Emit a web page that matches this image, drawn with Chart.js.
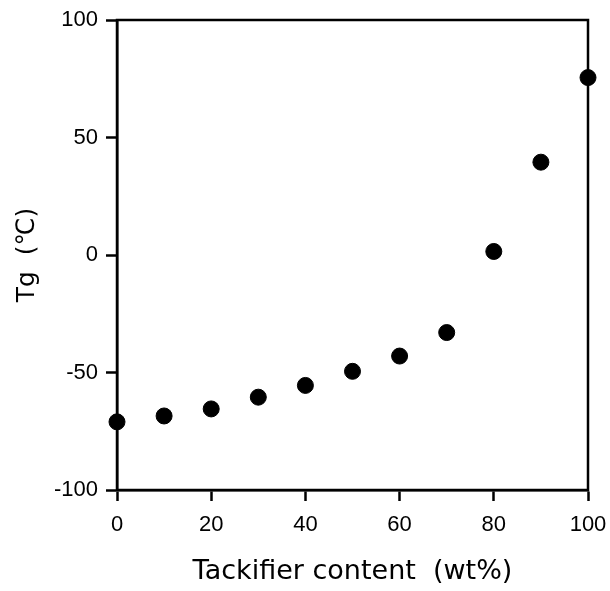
<!DOCTYPE html>
<html>
<head>
<meta charset="utf-8">
<script src="https://cdn.jsdelivr.net/npm/chart.js@4/dist/chart.umd.min.js"></script>
<style>
  html, body { margin: 0; padding: 0; background: #fff; }
  #wrap { width: 610px; height: 591px; }
</style>
</head>
<body>
<div id="wrap"><canvas id="tgChart"></canvas></div>
<script>
// Tackifier content (wt%) vs Tg (deg C)
const tackifierContent = [0, 10, 20, 30, 40, 50, 60, 70, 80, 90, 100];
const tgValues = [-71, -68.5, -65.5, -60.5, -55.5, -49.5, -43, -33, 1.5, 39.5, 75.5];

const FONT = '"DejaVu Sans", sans-serif';
const TICK_FONT = '"Liberation Sans", Arial, sans-serif';

// draw the closed frame round the plot area
const frameBox = {
  id: 'frameBox',
  afterDraw(chart) {
    const a = chart.chartArea;
    const c = chart.ctx;
    c.save();
    c.strokeStyle = '#000';
    c.lineWidth = 2.5;
    c.strokeRect(a.left, a.top, a.right - a.left, a.bottom - a.top);
    c.restore();
  }
};

const ctx = document.getElementById('tgChart').getContext('2d');
const tgChart = new Chart(ctx, {
  type: 'scatter',
  data: {
    datasets: [{
      data: tackifierContent.map((x, i) => ({ x: x, y: tgValues[i] })),
      backgroundColor: '#000',
      borderColor: '#000',
      pointRadius: 8,
      pointHoverRadius: 8,
      clip: false
    }]
  },
  options: {
    responsive: true,
    maintainAspectRatio: false,
    animation: false,
    layout: { padding: { top: 20, right: 22, left: 0, bottom: 0 } },
    plugins: { legend: { display: false }, tooltip: { enabled: false } },
    scales: {
      x: {
        type: 'linear',
        min: 0,
        max: 100,
        ticks: { stepSize: 20, color: '#000', font: { family: TICK_FONT, size: 22 }, padding: 11 },
        grid: { drawOnChartArea: false, tickLength: 11, tickWidth: 2.5, color: '#000' },
        border: { color: '#000', width: 2.5 },
        title: { display: true, text: 'Tackifier content  (wt%)', color: '#000', font: { family: FONT, size: 27 }, padding: { top: 12, bottom: 3 } },
        afterFit(scale) {
          scale.height = 101;
          scale.paddingLeft = 0;
          scale.paddingRight = 0;
        }
      },
      y: {
        min: -100,
        max: 100,
        ticks: { stepSize: 50, color: '#000', font: { family: TICK_FONT, size: 22 }, padding: 8 },
        grid: { drawOnChartArea: false, tickLength: 11, tickWidth: 2.5, color: '#000' },
        border: { color: '#000', width: 2.5 },
        title: { display: true, text: 'Tg  (\u2103)', color: '#000', font: { family: FONT, size: 25 }, padding: { top: 12, bottom: 10 } },
        afterFit(scale) {
          scale.width = 117;
          scale.paddingTop = 0;
          scale.paddingBottom = 0;
        }
      }
    }
  },
  plugins: [frameBox]
});
</script>
</body>
</html>
